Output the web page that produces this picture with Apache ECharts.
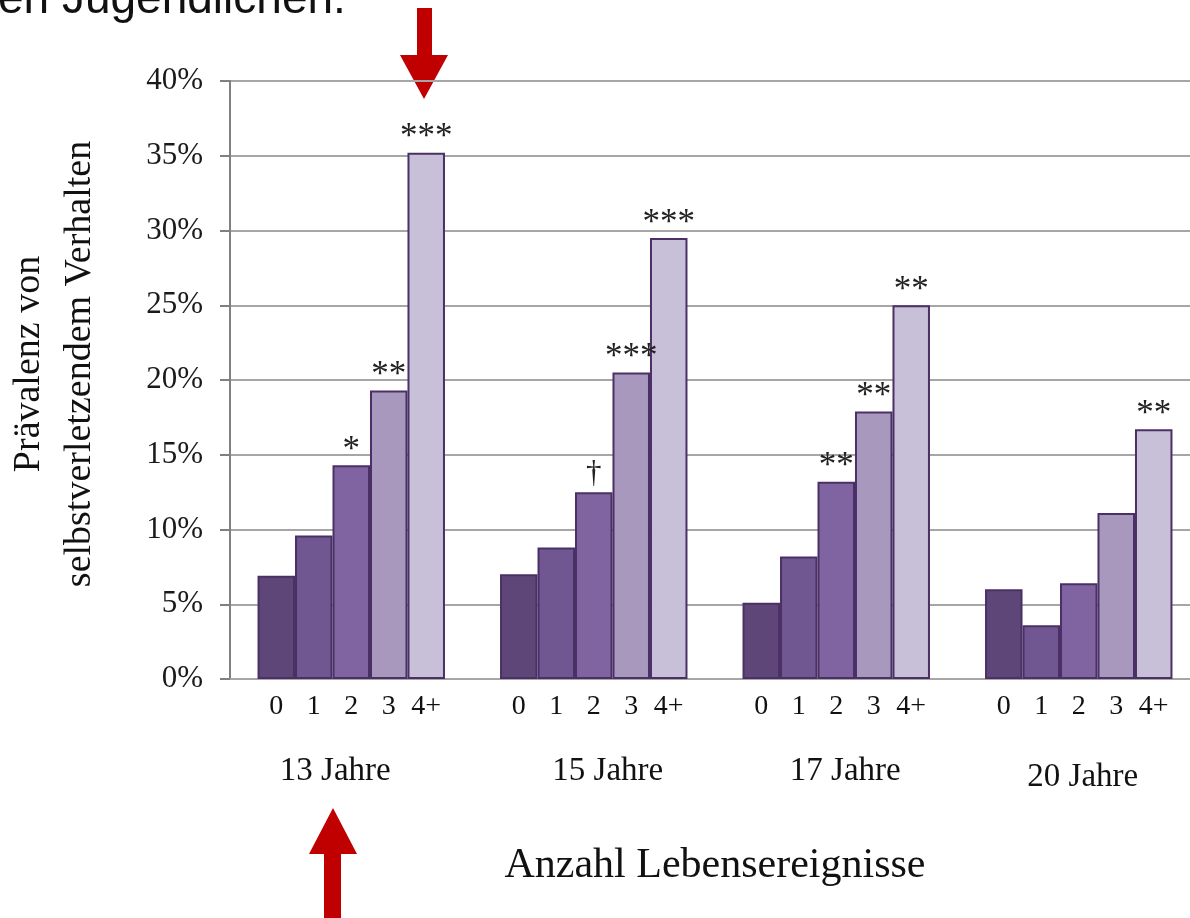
<!DOCTYPE html>
<html>
<head>
<meta charset="utf-8">
<script src="https://cdn.jsdelivr.net/npm/echarts@6/dist/echarts.min.js"></script>
<style>
html,body{margin:0;padding:0;background:#fff;overflow:hidden;width:1190px;height:918px;}
#c{width:1200px;height:918px;}
</style>
</head>
<body>
<div id="c"></div>
<script>
// ---- data ----
var ageGroups = ['13 Jahre', '15 Jahre', '17 Jahre', '20 Jahre'];
var eventCounts = ['0', '1', '2', '3', '4+'];
var yTicks = [0, 5, 10, 15, 20, 25, 30, 35, 40];
// prevalence (%) per number of life events, one value per age group
var events0 = [6.9, 7.0, 5.1, 6.0];
var events1 = [9.6, 8.8, 8.2, 3.6];
var events2 = [14.3, 12.5, 13.2, 6.4];
var events3 = [19.3, 20.5, 17.9, 11.1];
var events4 = [35.2, 29.5, 25.0, 16.7];
// significance markers per bar
var sig0 = ['', '', '', ''];
var sig1 = ['', '', '', ''];
var sig2 = ['*', '†', '**', ''];
var sig3 = ['**', '***', '**', ''];
var sig4 = ['***', '***', '**', '**'];

var seriesValues = [events0, events1, events2, events3, events4];
var seriesSig = [sig0, sig1, sig2, sig3, sig4];

// ---- styles ----
var barColors = ['#5e4778', '#705791', '#8064a2', '#a898be', '#c8bfd9'];
var serif = 'Liberation Serif, Times New Roman, serif';
var groupLabelShift = [-16, 14, 9, 4];
var groupLineHeight = [92, 92, 92, 104];

var rich = {
  n: { width: 37.5, align: 'center', fontSize: 28, lineHeight: 36, fontFamily: serif, color: '#111' }
};
ageGroups.forEach(function (g, i) {
  var s = groupLabelShift[i];
  rich['g' + i] = {
    fontSize: 33, fontFamily: serif, color: '#111', align: 'center',
    lineHeight: groupLineHeight[i],
    padding: s >= 0 ? [0, 0, 0, 2 * s] : [0, -2 * s, 0, 0]
  };
});

var chart = echarts.init(document.getElementById('c'), null, { renderer: 'canvas', width: 1200, height: 918 });

var series = eventCounts.map(function (ec, si) {
  return {
    name: ec,
    type: 'bar',
    barGap: '0%',
    barCategoryGap: '22.7%',
    data: seriesValues[si],
    itemStyle: { color: barColors[si], borderColor: '#4b3066', borderWidth: 2 },
    label: {
      show: true,
      position: 'top',
      distance: -3,
      fontSize: 35,
      fontFamily: serif,
      color: '#222',
      formatter: function (p) {
        var s = seriesSig[si][p.dataIndex];
        if (s === '†') return '{d|†}';
        return s;
      },
      rich: { d: { fontSize: 31, fontFamily: serif, color: '#222', padding: [0, 0, 6, 0] } }
    },
    emphasis: { disabled: true }
  };
});

chart.setOption({
  animation: false,
  backgroundColor: '#fff',
  grid: { left: 230, right: 0, top: 81, bottom: 239, containLabel: false },
  xAxis: {
    type: 'category',
    data: ageGroups,
    axisLine: { show: true, lineStyle: { color: '#a6a6a6', width: 2 } },
    axisTick: { show: false },
    axisLabel: {
      interval: 0,
      margin: 10,
      formatter: function (v, i) {
        return eventCounts.map(function (e) { return '{n|' + e + '}'; }).join('') + '\n{g' + i + '|' + v + '}';
      },
      rich: rich
    },
    name: 'Anzahl Lebensereignisse',
    nameLocation: 'middle',
    nameGap: 166,
    nameTextStyle: { fontSize: 42, fontFamily: serif, color: '#111', lineHeight: 42 }
  },
  yAxis: {
    type: 'value',
    min: yTicks[0],
    max: yTicks[yTicks.length - 1],
    interval: 5,
    axisLine: { show: true, lineStyle: { color: '#808080', width: 2 } },
    axisTick: { show: true, length: 10, inside: false, lineStyle: { color: '#808080', width: 2 } },
    axisLabel: { formatter: '{value}%', fontSize: 31, fontFamily: serif, color: '#1a1a1a', margin: 27 },
    splitLine: { show: true, lineStyle: { color: '#a6a6a6', width: 2 } }
  },
  graphic: [
    {
      type: 'text', x: 55, y: 364, rotation: Math.PI / 2,
      style: {
        text: 'Prävalenz von\nselbstverletzendem Verhalten',
        fontSize: 38, fontFamily: serif, fill: '#111', lineHeight: 51,
        align: 'center', verticalAlign: 'middle'
      }
    },
    {
      type: 'text', x: -2, y: 0,
      style: {
        text: 'en Jugendlichen.',
        fontSize: 46, fontFamily: 'Liberation Sans, Arial, sans-serif', fill: '#111',
        align: 'left', verticalAlign: 'middle'
      }
    },
    {
      type: 'polygon',
      shape: { points: [[417, 8], [432, 8], [432, 55], [448, 55], [424, 99], [400, 55], [417, 55]] },
      style: { fill: '#c00000' }
    },
    {
      type: 'polygon',
      shape: { points: [[333, 808], [357, 854], [341, 854], [341, 918], [324, 918], [324, 854], [309, 854]] },
      style: { fill: '#c00000' }
    }
  ],
  series: series
});
</script>
</body>
</html>
